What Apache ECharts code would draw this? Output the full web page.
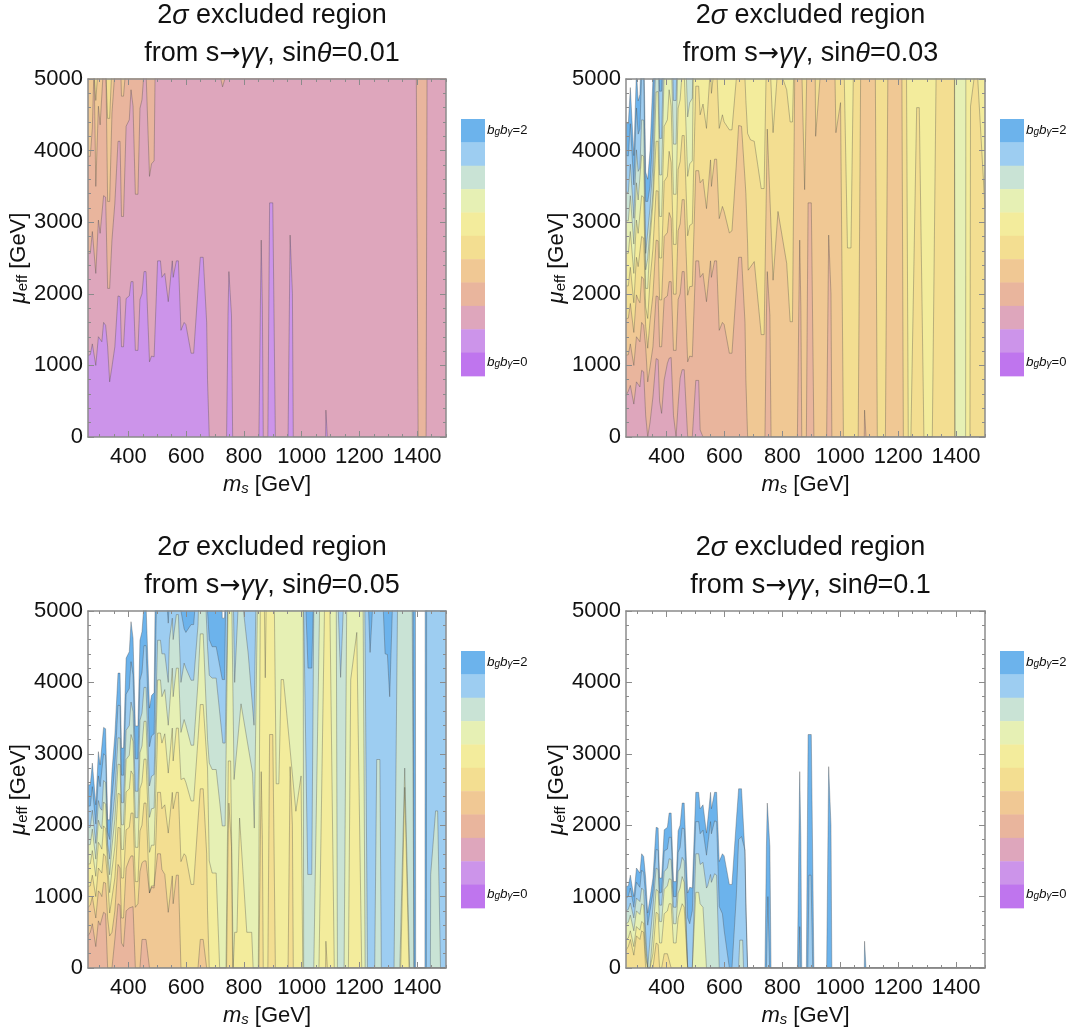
<!DOCTYPE html>
<html><head><meta charset="utf-8">
<style>html,body{margin:0;padding:0;background:#fff}#c{width:1075px;height:1034px}</style>
<script src="https://cdn.jsdelivr.net/npm/echarts@6/dist/echarts.min.js"></script>
</head><body><div id="c"></div>
<script>
const bandColors=['#bf75ee','#cc94ea','#dea6bc','#e9b59d','#f0c894','#f3de91','#f3ec9c','#e6f0b4','#c9e3d5','#9dcdf1','#6cb3ec'];
const xTickLabels=[400,600,800,1000,1200,1400];
const xMinorTicks=[300,350,400,450,500,550,600,650,700,750,800,850,900,950,1000,1050,1100,1150,1200,1250,1300,1350,1400,1450,1500];
const sinThetas=['0.01','0.03','0.05','0.1'];
const xsLeft=[260,268,275,281,287,296,302,308,314,321,328,335,343,353,364,371,376,383,392,403,409,416,424,433,440,447,454,461,473,480,489,501,511,516,526,538,542,552,555,566,573,582,593,599,617,626,641,649,659,671,674,680];
const limitL=[1140,1150,1300,1310,1000,1400,1400,1330,1600,1560,1260,770,980,1260,1970,1960,1260,1260,1935,1970,2170,2170,1210,1210,1920,2000,2310,2310,1050,1130,1120,2460,2460,2230,2285,1890,1890,2460,2230,2460,2460,1490,1600,1570,1170,1170,2060,2510,2510,1600,800,0];
const limitLR=[740,0,745,1700,748,2310,754,2310,757,1700,761,0,852,0,857,1800,860,2750,864,1800,867,0,883,0,887,2200,889,3270,900,3270,903,2200,909,0,953,0,958,2000,960,2820,965,2820,968,2000,971,0,1083,0,1084,375,1088,375,1089,0,1500,0];
const limitP=[2565,2565,2870,2870,2285,3030,2845,2845,3370,3350,2075,2075,2750,3265,4130,4130,3080,3080,4340,4430,4850,4620,3390,3390,4590,4710,5100,5100,3640,3815,3857];
// panel 1
const p1c2r=[495,6000,715,6000,720,5000,726,4890,731,4890,734,5000,740,6000,1396,6000,1403.5,0,1431,0,1435,6000,1500,6000];
const p1c3=[3920,3920,4315,5200,3500,4620,4360,4360,5200,5500,3290,3290,4520,5100,5500,5500,4760,4760,5200];
const p1c3r=[403,6000,1500,6000];
const p1c4=[5500,5500,5500,5500,4700,5200,5500,5500,5500,5200,4450,4450,5200];
const p1c4r=[353,6000,1500,6000];
const p1c5r=[260,6000,1500,6000];
// panel 2
const p2c2=[580,640,720,700,460,770,750,700,930,910,300,0,200,560,1095,1080,500,330,800,1030,1100,1110,300,0,450,820,940,940,0,0,0,790,790,100,0];
const p2c2r=[1500,0];
const p2c4=[1650,1660,1865,1870,1460,1985,1920,1875,2240,2205,1550,1240,1620,1980,2750,2740,1915,1915,2800,2855,3135,3050,1995,1995,2880,2975,3315,3315,1980,2100,2105,3720,3720,3550,3600,3190,3190,3870,3500,3880,3880,3050,3220,3150,2850,2880,3800,4350,4340,3600,3400,2700];
const p2c4r=[682,2330,703,2450,727,1430,737,1430,748,4300,754,4300,768,2190,785,3150,791,3150,815,2425,827,1610,835,1610,845,6000,861,6000,868,5000,877,3455,880,3455,884,5000,888,6000,912,6000,915,4200,920,4200,930,5000,933,6000,978,6000,985,4250,1001,4670,1011,0,1062,0,1072,6000,1120,6000,1128,0,1156,0,1166,6000,1212,6000,1218,0,1500,0];
const p2c5=[2110,2110,2370,2370,1875,2510,2380,2360,2800,2780,1815,1655,2185,2625,3440,3435,2500,2500,3570,3640,3990,3835,2690,2690,3735,3845,4210,4210,2810,2955,2980,4900,4900,4500,4650,4310,4310,5200,4800,5200,5200,4310,4500,4400,4290,4290,5000,5800,5800,5000,4700,4240];
const p2c5r=[690,4150,703,4130,727,3470,737,3470,748,6000,760,5000,768,4250,785,5200,791,5200,815,4850,827,4400,835,4400,845,6000,1011,6000,1014,5000,1025,2640,1037,2640,1045,5000,1047,6000,1225,6000,1229,5000,1235,0,1244,0,1264,4600,1273,4600,1289,0,1318,0,1331,5000,1333,6000,1393,6000,1395,5000,1396,0,1448,0,1450,4620,1462,5000,1467,5200,1475,5000,1500,3200];
const p2c6r=[495,6000,1394,6000,1396,0,1433,0,1434,6000,1500,6000];
const p2c7=[3020,3020,3370,3370,2695,3550,3310,3330,3940,3920,2335,2495,2900,3400,4820,4825,3660,3660,5110,5220,5710,5400,4090,4090,5440,5580,6000,6000,4470,4670,4730];
const p2c7r=[495,6000,1500,6000];
const p2c8=[3420,3415,3810,3805,3055,4010,3710,3755,4430,4425,2565,2860,3200,3800,5425,5430,4170,4170,5780,5900,6000,6000,4700,4700,6000,6000,6000,6000,5190,5430,5500];
const p2c8r=[495,6000,1500,6000];
const p2c9=[3935,3925,4375,4370,3520,4595,4230,4300,5070,5070,3290,3290,3500,4300,6000,6000,4830,4830,6000,6000,6000,6000,5480,5480,6000];
const p2c9r=[447,6000,1500,6000];
const p2c10=[4390,4375,4880,4865,3930,5115,4695,4785,5635,5640,3700,3600,4000,5000,6000,6000,5410,5410];
const p2c10r=[392,6000,1500,6000];
// panel 3
const p3c3=[450,500,620,620,300,660,600,580,780,760,0,0,0,400,900,880,350,300,800,840,860,860,0,0,0,400,400,400,0];
const p3c3r=[1500,0];
const p3c4=[850,880,1000,1010,700,1080,1050,1000,1200,1190,700,450,500,800,1450,1400,700,700,1400,1520,1570,1570,850,900,1350,1475,1500,1500,1050,1150,1150,1600,1600,1380,1310,780,760,1290,900,1300,1300,0,0,0,0,0,0,400,400,0,0,0];
const p3c4r=[1500,0];
const p3c6=[1455,1460,1645,1655,1285,1760,1720,1665,1990,1955,1440,1055,1370,1700,2445,2435,1660,1660,2465,2510,2760,2710,1690,1690,2510,2600,2925,2925,1620,1720,1720,3290,3290,3150,3280,2730,2750,3360,2900,3360,3360,2640,2660,2600,2340,2340,3200,3690,3690,2965,2800,1500];
const p3c6r=[690,1330,704,1330,716,0,738,0,746,2900,754,2900,763,0,768,500,776,500,785,2100,791,2100,810,500,827,500,832,0,850,0,858,6000,903,6000,912,2580,921,2580,929,4040,937,4040,944,3750,980,2195,998,2690,1004,0,1060,0,1079,5000,1082,6000,1095,6000,1098,5000,1113,0,1162,0,1170,4040,1191,4700,1197,4690,1208,0,1343,0,1357,2530,1372,0,1500,0];
const p3c7=[1725,1730,1945,1950,1525,2070,1990,1950,2325,2295,1595,1305,1705,2080,2855,2850,2005,2005,2920,2980,3270,3175,2105,2105,3015,3110,3455,3455,2110,2230,2240,4035,4035,3800,3900,3400,3420,4200,3800,4200,4200,3300,3480,3400,3120,3120,4000,4680,4680,3500,3200,2870];
const p3c7r=[690,2780,704,2780,725,1990,735,1990,748,6000,755,6000,766,2640,790,3700,795,3700,830,2730,836,1960,842,1960,850,6000,868,6000,874,4065,877,4065,880,6000,1005,6000,1007,0,1042,0,1062,5000,1064,6000,1115,6000,1120,5000,1124,0,1147,0,1156,5000,1158,6000,1211,6000,1213,5000,1220,0,1340,0,1357,2800,1374,0,1500,0];
const p3c8=[1965,1970,2210,2215,1745,2345,2240,2210,2625,2600,1735,1525,2010,2425,3225,3220,2315,2315,3330,3395,3725,3590,2475,2475,3470,3570,3930,3930,2550,2685,2710,4590,4590,4400,4400,4000,4600,4900,4600,4950,4950,4000,4270,4200,4030,4030,4800,6000,6000,4800,4500,4100];
const p3c8r=[690,4060,704,4060,727,3150,735,3150,748,6000,760,6000,768,4000,785,5500,791,5500,815,4400,825,3900,835,3400,845,6000,1005,6000,1007,5000,1021,1310,1035,1310,1042,5000,1046,6000,1125,6000,1127,5000,1135,4070,1144,5000,1146,6000,1217,6000,1219,5000,1228,0,1253,0,1260,2920,1271,2920,1276,0,1320,0,1332,5000,1334,6000,1381,6000,1383,5000,1389,0,1446,0,1447,1310,1464,2200,1471,2200,1481,0,1500,0];
const p3c9=[2265,2270,2540,2540,2015,2690,2540,2530,3000,2975,1900,1800,2380,2840,3680,3675,2700,2700,3835,3915,4290,4105,2930,2930,4030,4140,4515,4515,3100,3250,3280,6000,6000,5300,5500,4830,4850,6000,5300,6000,6000,5000,4750,4700,4810,4810,5600,6000,6000,5200,5000,4600];
const p3c9r=[690,4500,704,4500,725,4040,733,4040,740,6000,1012,6000,1015,5000,1022,4200,1035,4200,1040,5000,1043,6000,1230,6000,1232,5000,1237,4420,1245,5000,1247,6000,1281,6000,1283,5000,1289,4400,1297,4390,1305,3800,1314,5000,1316,6000,1386,6000,1389,0,1432,0,1433,6000,1500,6000];
const p3c10r=[495,6000,720,6000,725,4900,733,4900,738,6000,1394,6000,1395,0,1427,0,1428,6000,1500,6000];
// panel 4
const p4c5=[250,300,400,420,180,450,450,400,520,500,0,0,0,0,350,330,0,0,200,200,220,0];
const p4c5r=[1500,0];
const p4c6=[400,420,520,530,300,580,580,530,650,630,150,0,0,200,780,760,350,350,760,800,900,900,350,350,700,800,900,850,0];
const p4c6r=[1500,0];
const p4c7=[620,640,740,750,520,800,800,750,900,880,300,0,0,500,1100,1080,650,650,1100,1150,1250,1240,620,620,1050,1120,1280,1200,0,0,0,1060,1060,900,850,0];
const p4c7r=[1500,0];
const p4c8=[800,820,910,920,700,980,980,930,1120,1090,500,0,400,850,1400,1380,880,880,1350,1400,1530,1520,850,850,1350,1400,1550,1500,0,0,0,1600,1600,1450,1480,1120,1150,1310,1200,1320,1300,0];
const p4c8r=[649,0,653,390,663,390,666,0,1500,0];
const p4c9=[980,1000,1120,1130,850,1200,1200,1130,1370,1340,1000,600,800,1050,1660,1650,1050,1060,1640,1665,1830,1830,1000,1000,1620,1690,1960,1950,700,620,800,2050,2050,1880,1930,1580,1600,2050,1880,2060,2050,860,760,530,0,0,1000,1800,1840,1650,1000,0];
const p4c9r=[745,0,750,1000,752,1000,756,0,857,0,860,580,862,0,888,0,892,1300,899,1300,905,0,1500,0];

// painted from the highest band down: [colour index, values on xsLeft, following x,y pairs]
const panelBands=[
 [[5,[],p1c5r],[4,p1c4,p1c4r],[3,p1c3,p1c3r],[2,limitP,p1c2r],[1,limitL,limitLR]],
 [[10,p2c10,p2c10r],[9,p2c9,p2c9r],[8,p2c8,p2c8r],[7,p2c7,p2c7r],[6,limitP,p2c6r],[5,p2c5,p2c5r],[4,p2c4,p2c4r],[3,limitL,limitLR],[2,p2c2,p2c2r]],
 [[10,limitP,p3c10r],[9,p3c9,p3c9r],[8,p3c8,p3c8r],[7,p3c7,p3c7r],[6,p3c6,p3c6r],[5,limitL,limitLR],[4,p3c4,p3c4r],[3,p3c3,p3c3r]],
 [[10,limitL,limitLR],[9,p4c9,p4c9r],[8,p4c8,p4c8r],[7,p4c7,p4c7r],[6,p4c6,p4c6r],[5,p4c5,p4c5r]]
];
const layout=[{l:88,t:79,w:358,h:358},{l:626,t:79,w:359,h:358},{l:88,t:611,w:358,h:357},{l:626,t:611,w:359,h:357}];
const FONT='"Liberation Sans",Arial,sans-serif', FRAME='#8b8b8b', INK='#111';
function pts(left,right){const o=left.map((v,i)=>[xsLeft[i],v]);for(let i=0;i<right.length;i+=2)o.push([right[i],right[i+1]]);return o;}

const grid=[],xAxis=[],yAxis=[],series=[],title=[],graphic=[];
const tBase={fontSize:27,fontFamily:FONT,fontWeight:'normal',color:INK,lineHeight:38};
const titleRich={n:tBase,i:Object.assign({},tBase,{fontStyle:'italic'}),a:Object.assign({},tBase,{fontFamily:'"DejaVu Sans",sans-serif',fontSize:25})};
const nBase={fontSize:22,fontFamily:FONT,fontWeight:'normal',color:INK};
const nameRich={n:nBase,i:Object.assign({},nBase,{fontStyle:'italic'}),s:Object.assign({},nBase,{fontSize:15,fontStyle:'italic',verticalAlign:'bottom',padding:[8,0,0,0]}),u:Object.assign({},nBase,{fontSize:15,verticalAlign:'bottom',padding:[8,0,0,0]})};
const legendRich={b:{fontSize:13.5,fontFamily:FONT,fontStyle:'italic',fill:INK,color:INK},s:{fontSize:10,fontFamily:FONT,fontStyle:'italic',fill:INK,color:INK,verticalAlign:'bottom',padding:[5,0,0,0]},n:{fontSize:13,fontFamily:FONT,fill:INK,color:INK}};
layout.forEach((g,i)=>{
  const a=grid.length;
  grid.push({left:g.l,top:g.t,width:g.w,height:g.h,show:false});
  grid.push({left:g.l,top:g.t,width:g.w,height:g.h,show:false});
  const line={show:true,onZero:false,lineStyle:{color:FRAME,width:1.5}};
  const xBase={type:'value',min:260,max:1500,z:10,splitLine:{show:false},axisLine:line};
  const ticks=v=>({show:true,inside:true,length:v,customValues:v>4?xTickLabels:xMinorTicks,lineStyle:{color:FRAME,width:1}});
  xAxis.push(Object.assign({},xBase,{gridIndex:a,position:'bottom',axisTick:ticks(6),
    axisLabel:{customValues:xTickLabels,fontSize:22,fontFamily:FONT,color:INK,margin:9,formatter:v=>String(v)},
    name:'{i|m}{s|s}{n| [GeV]}',nameLocation:'middle',nameGap:36,nameTextStyle:{rich:nameRich}}));
  xAxis.push(Object.assign({},xBase,{gridIndex:a,position:'top',axisTick:ticks(6),axisLabel:{show:false}}));
  xAxis.push(Object.assign({},xBase,{gridIndex:a+1,position:'bottom',axisLine:{show:false},axisTick:ticks(3),axisLabel:{show:false}}));
  xAxis.push(Object.assign({},xBase,{gridIndex:a+1,position:'top',axisLine:{show:false},axisTick:ticks(3),axisLabel:{show:false}}));
  const yBase={type:'value',min:0,max:5000,interval:1000,z:10,splitLine:{show:false},axisLine:line,
    axisTick:{show:true,inside:true,length:6,lineStyle:{color:FRAME,width:1}},
    minorTick:{show:true,splitNumber:5,length:3,lineStyle:{color:FRAME,width:1}}};
  yAxis.push(Object.assign({},yBase,{gridIndex:a,position:'left',
    axisLabel:{fontSize:22,fontFamily:FONT,color:INK,margin:5,formatter:v=>String(v)},
    name:'{i|μ}{u|eff}{n| [GeV]}',nameLocation:'middle',nameGap:47,nameRotate:90,nameTextStyle:{rich:nameRich}}));
  yAxis.push(Object.assign({},yBase,{gridIndex:a,position:'right',axisLabel:{show:false}}));
  yAxis.push({type:'value',min:0,max:5000,gridIndex:a+1,show:false});
  const xi=i*4, yi=i*3;
  panelBands[i].forEach(b=>{
    series.push({type:'line',xAxisIndex:xi,yAxisIndex:yi,data:pts(b[1],b[2]),showSymbol:false,symbol:'none',silent:true,
      clip:true,z:2,lineStyle:{color:'rgba(70,70,70,0.38)',width:0.9},areaStyle:{color:bandColors[b[0]],opacity:1,origin:'start'}});
  });
  title.push({left:g.l+g.w/2,top:g.t-87,textAlign:'center',text:'{n|2}{i|σ}{n| excluded region}\n{n|from s}{a|→}{i|γγ}{n|, sin}{i|θ}{n|='+sinThetas[i]+'}',textStyle:{fontWeight:'normal',rich:titleRich}});
  const lx=i%2?1000:461, ly=g.t+40, sw=24, sh=23.36;
  bandColors.slice().reverse().forEach((c,k)=>{
    graphic.push({type:'rect',left:lx,top:ly+k*sh,shape:{width:sw,height:sh+0.4},style:{fill:c},silent:true});
  });
  [['2',ly+4],['0',ly+236]].forEach(t=>{
    graphic.push({type:'text',left:lx+26,top:t[1],silent:true,style:{text:'{b|b}{s|g}{b|b}{s|γ}{n|='+t[0]+'}',rich:legendRich}});
  });
});
const chart=echarts.init(document.getElementById('c'),null,{renderer:'canvas'});
chart.setOption({animation:false,backgroundColor:'#fff',grid,xAxis,yAxis,series,title,graphic});
</script></body></html>
